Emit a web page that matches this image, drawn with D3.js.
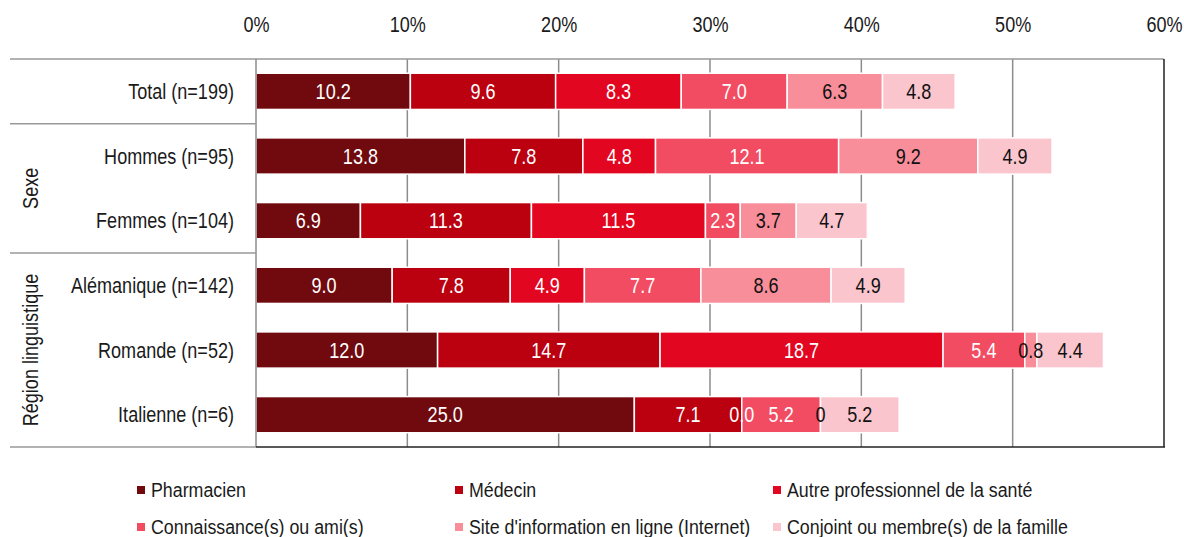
<!DOCTYPE html>
<html>
<head>
<meta charset="utf-8">
<script src="https://cdn.jsdelivr.net/npm/d3@7"></script>
<style>
  body { margin: 0; background: #fff; }
  svg text { font-family: "Liberation Sans", Arial, sans-serif; fill: #1a1a1a; }
</style>
</head>
<body>
<svg width="1184" height="537"></svg>
<script>
// Les données (valeurs telles qu'affichées dans le graphique)
const categories = ["Total (n=199)", "Hommes (n=95)", "Femmes (n=104)", "Alémanique (n=142)", "Romande (n=52)", "Italienne (n=6)"]
const series = ["Pharmacien", "Médecin", "Autre professionnel de la santé", "Connaissance(s) ou ami(s)", "Site d'information en ligne (Internet)", "Conjoint ou membre(s) de la famille"]

const pharmacien = ["10.2", "13.8", "6.9", "9.0", "12.0", "25.0"]
const medecin = ["9.6", "7.8", "11.3", "7.8", "14.7", "7.1"]
const autreProf = ["8.3", "4.8", "11.5", "4.9", "18.7", "0.0"]
const connaissance = ["7.0", "12.1", "2.3", "7.7", "5.4", "5.2"]
const siteInternet = ["6.3", "9.2", "3.7", "8.6", "0.8", "0"]
const conjoint = ["4.8", "4.9", "4.7", "4.9", "4.4", "5.2"]

const tickValues = [0, 10, 20, 30, 40, 50, 60]

const groups = [
    ["Sexe", ["Hommes (n=95)", "Femmes (n=104)"]],
    ["Région linguistique", ["Alémanique (n=142)", "Romande (n=52)", "Italienne (n=6)"]]
]

const colors = ["#700a0e", "#bb000f", "#e30620", "#f24c63", "#f78e9a", "#fbc5ce"]
const labelColors = ["#fff", "#fff", "#fff", "#fff", "#111", "#111"]

const allValues = [pharmacien, medecin, autreProf, connaissance, siteInternet, conjoint]

// pas de police étroite installée : on comprime horizontalement
const narrow = 0.84

// tableau pour d3.stack
const table = categories.map((c, i) => {
    const row = { categorie: c }
    series.forEach((s, j) => { row[s] = +allValues[j][i] })
    return row
})

const svg = d3.select("svg")

const margin = { top: 59, left: 256 }
const plotRight = 1164
const plotBottom = 447

const xScale = d3.scaleLinear()
    .domain([0, 60])
    .range([margin.left, plotRight])

const yScale = d3.scaleBand()
    .domain(categories)
    .range([margin.top, plotBottom])
    .paddingInner(0.44)
    .paddingOuter(0.22)

const gap = (yScale.step() - yScale.bandwidth()) / 2

// lignes de la grille
svg.append("g")
    .selectAll("line")
    .data(tickValues.filter(d => d > 0 && d < 60))
    .join("line")
    .attr("x1", d => xScale(d))
    .attr("x2", d => xScale(d))
    .attr("y1", margin.top)
    .attr("y2", plotBottom)
    .attr("stroke", "#8c8c8c")
    .attr("stroke-width", 1.5)

// axe du haut
const xAxis = d3.axisTop(xScale)
    .tickValues(tickValues)
    .tickSize(0)
    .tickPadding(0)
    .tickFormat(d => d + "%")

const axisG = svg.append("g")
    .attr("transform", "translate(0,32)")
    .call(xAxis)
axisG.select(".domain").remove()
axisG.selectAll("text")
    .attr("dy", 0)
    .attr("y", 0)
    .attr("transform", `scale(${narrow},1)`)
    .style("font-size", "21.5px")
    .style("font-family", null)
    .style("fill", "#1a1a1a")

// les barres
const stacked = d3.stack().keys(series)(table)

const layers = svg.append("g")
    .selectAll("g")
    .data(stacked)
    .join("g")
    .attr("fill", (d, i) => colors[i])

layers.selectAll("rect")
    .data(d => d)
    .join("rect")
    .attr("x", d => xScale(d[0]))
    .attr("y", d => yScale(d.data.categorie))
    .attr("width", d => xScale(d[1]) - xScale(d[0]))
    .attr("height", yScale.bandwidth())
    .attr("stroke", "#fff")
    .attr("stroke-width", 1.5)

// étiquettes des barres
stacked.forEach((layer, j) => {
    svg.append("g")
        .selectAll("text")
        .data(layer)
        .join("text")
        .attr("transform", d => `translate(${(xScale(d[0]) + xScale(d[1])) / 2},${yScale(d.data.categorie) + yScale.bandwidth() / 2}) scale(${narrow},1)`)
        .attr("dy", "0.36em")
        .attr("text-anchor", "middle")
        .style("font-size", "21.5px")
        .style("fill", labelColors[j])
        .text((d, i) => allValues[j][i])
})

// cadre et séparateurs
const frame = svg.append("g")
frame.append("line")
    .attr("x1", 10).attr("x2", plotRight)
    .attr("y1", margin.top).attr("y2", margin.top)
    .attr("stroke", "#999").attr("stroke-width", 1.5)
frame.append("line")
    .attr("x1", margin.left).attr("x2", margin.left)
    .attr("y1", margin.top).attr("y2", plotBottom)
    .attr("stroke", "#8c8c8c").attr("stroke-width", 1.5)
frame.append("line")
    .attr("x1", 10).attr("x2", margin.left)
    .attr("y1", plotBottom).attr("y2", plotBottom)
    .attr("stroke", "#999").attr("stroke-width", 1.5)
frame.append("line")
    .attr("x1", margin.left).attr("x2", plotRight + 1)
    .attr("y1", plotBottom).attr("y2", plotBottom)
    .attr("stroke", "#222").attr("stroke-width", 1.5)
frame.append("line")
    .attr("x1", plotRight).attr("x2", plotRight)
    .attr("y1", margin.top).attr("y2", plotBottom)
    .attr("stroke", "#222").attr("stroke-width", 1.5)

groups.forEach(([name, cats]) => {
    const y0 = yScale(cats[0]) - gap
    const y1 = yScale(cats[cats.length - 1]) + yScale.bandwidth() + gap
    frame.append("line")
        .attr("x1", 10).attr("x2", margin.left)
        .attr("y1", y0).attr("y2", y0)
        .attr("stroke", "#999").attr("stroke-width", 1.5)
    svg.append("text")
        .attr("transform", `translate(38,${(y0 + y1) / 2}) rotate(-90) scale(${narrow},1)`)
        .attr("text-anchor", "middle")
        .style("font-size", "21.5px")
        .text(name)
})

// étiquettes des catégories
svg.append("g")
    .selectAll("text")
    .data(categories)
    .join("text")
    .attr("transform", d => `translate(234,${yScale(d) + yScale.bandwidth() / 2}) scale(${narrow},1)`)
    .attr("dy", "0.36em")
    .attr("text-anchor", "end")
    .style("font-size", "21.5px")
    .text(d => d)

// légende
const legendX = [137, 455, 773]
const legendY = [490, 527]

const legend = svg.append("g")
    .selectAll("g")
    .data(series)
    .join("g")
    .attr("transform", (d, i) => `translate(${legendX[i % 3]},${legendY[Math.floor(i / 3)]})`)

legend.append("rect")
    .attr("x", 0)
    .attr("y", -4)
    .attr("width", 8)
    .attr("height", 8)
    .attr("fill", (d, i) => colors[i])

legend.append("text")
    .attr("transform", `translate(14,0) scale(0.89,1)`)
    .attr("dy", "0.36em")
    .style("font-size", "20px")
    .text(d => d)
</script>
</body>
</html>
